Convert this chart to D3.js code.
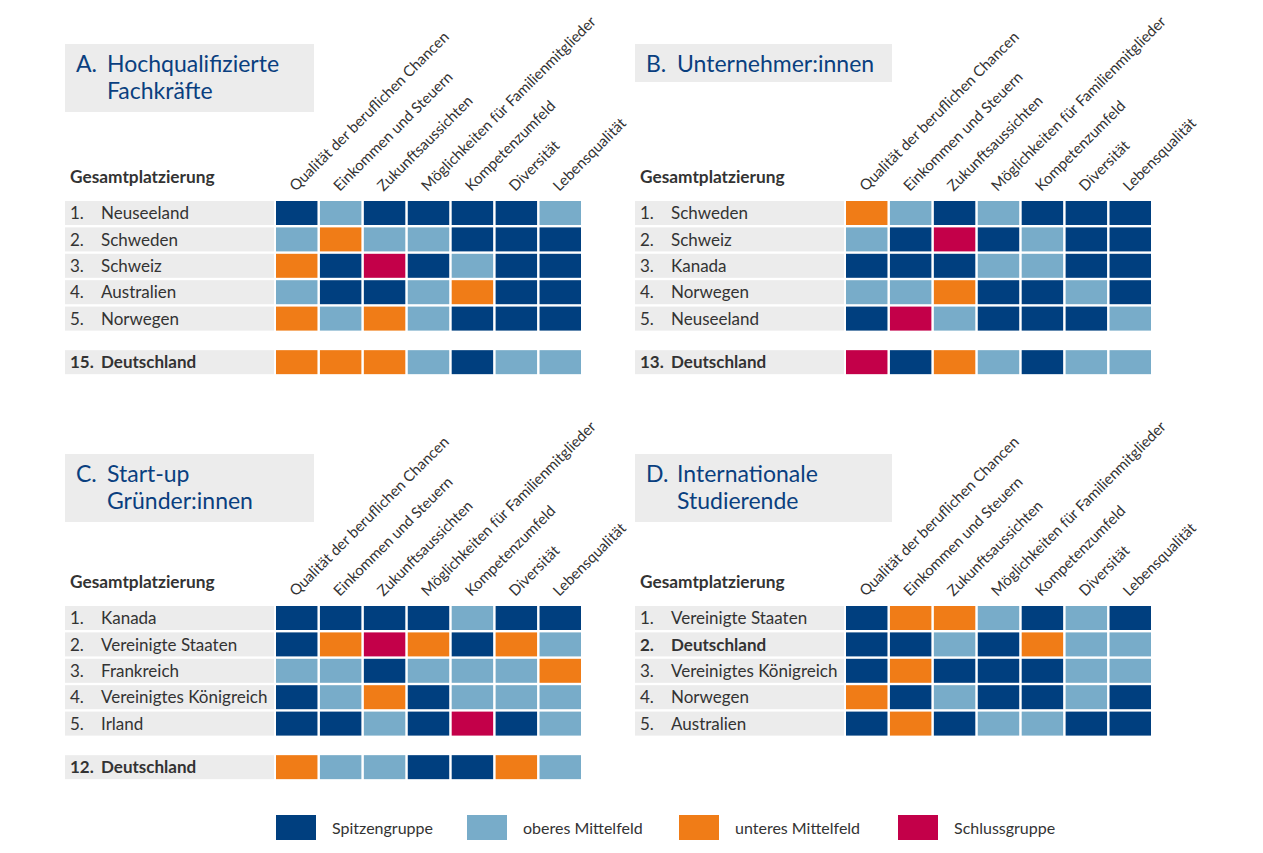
<!DOCTYPE html>
<html><head><meta charset="utf-8">
<script src="https://cdn.jsdelivr.net/npm/d3@7"></script>
<style>
body{margin:0;background:#fff;}
svg{display:block;font-family:Lato, "Open Sans", sans-serif;}
</style></head>
<body>
<svg id="chart" width="1263" height="853"></svg>
<script>
const categories = ["Qualität der beruflichen Chancen","Einkommen und Steuern","Zukunftsaussichten","Möglichkeiten für Familienmitglieder","Kompetenzumfeld","Diversität","Lebensqualität"];
const levels = ["Spitzengruppe","oberes Mittelfeld","unteres Mittelfeld","Schlussgruppe"];
const levelColors = ["#003f7f","#78acc9","#f07c17","#c30049"];

const panelTitles = [["A.","Hochqualifizierte","Fachkräfte"],["B.","Unternehmer:innen"],["C.","Start-up","Gründer:innen"],["D.","Internationale","Studierende"]];

const ranksA = ["1.","2.","3.","4.","5.","15."];
const countriesA = ["Neuseeland","Schweden","Schweiz","Australien","Norwegen","Deutschland"];
const valuesA = [[1,2,1,1,1,1,2],[2,3,2,2,1,1,1],[3,1,4,1,2,1,1],[2,1,1,2,3,1,1],[3,2,3,2,1,1,1],[3,3,3,2,1,2,2]];

const ranksB = ["1.","2.","3.","4.","5.","13."];
const countriesB = ["Schweden","Schweiz","Kanada","Norwegen","Neuseeland","Deutschland"];
const valuesB = [[3,2,1,2,1,1,1],[2,1,4,1,2,1,1],[1,1,1,2,2,1,1],[2,2,3,1,1,2,1],[1,4,2,1,1,1,2],[4,1,3,2,1,2,2]];

const ranksC = ["1.","2.","3.","4.","5.","12."];
const countriesC = ["Kanada","Vereinigte Staaten","Frankreich","Vereinigtes Königreich","Irland","Deutschland"];
const valuesC = [[1,1,1,1,2,1,1],[1,3,4,3,1,3,2],[2,2,1,2,2,2,3],[1,2,3,1,2,2,2],[1,1,2,1,4,1,2],[3,2,2,1,1,3,2]];

const ranksD = ["1.","2.","3.","4.","5."];
const countriesD = ["Vereinigte Staaten","Deutschland","Vereinigtes Königreich","Norwegen","Australien"];
const valuesD = [[1,3,3,2,1,2,1],[1,1,2,1,3,2,2],[1,3,1,1,1,2,2],[3,1,2,1,1,2,1],[1,3,1,2,2,1,1]];

const headerLabel = "Gesamtplatzierung";

const panels = [
  {ox:65, oy:0, titleY:44, titleW:249, title:panelTitles[0], ranks:ranksA, countries:countriesA, values:valuesA},
  {ox:635, oy:0, titleY:44, titleW:257, title:panelTitles[1], ranks:ranksB, countries:countriesB, values:valuesB},
  {ox:65, oy:405, titleY:454, titleW:249, title:panelTitles[2], ranks:ranksC, countries:countriesC, values:valuesC},
  {ox:635, oy:405, titleY:454, titleW:257, title:panelTitles[3], ranks:ranksD, countries:countriesD, values:valuesD}
];

const svg = d3.select("#chart");
const textCol = "#333";
const blue = "#0a3f7f";

const x = d3.scaleBand().domain(categories).range([211, 516]).paddingInner(0.056).paddingOuter(0);
const slot = d3.scaleLinear().domain([0,1]).range([201, 227.4]);
const rowH = 24;
const color = d3.scaleOrdinal().domain([1,2,3,4]).range(levelColors);

panels.forEach(p => {
  const g = svg.append("g").attr("transform", `translate(${p.ox},${p.oy})`);
  const tg = svg.append("g").attr("transform", `translate(${p.ox},${p.titleY})`);
  const boxH = p.title.length > 2 ? 68 : 38;
  tg.append("rect").attr("x",0).attr("y",0).attr("width",p.titleW).attr("height",boxH).attr("fill","#ececec");
  tg.append("text").attr("x",11).attr("y",28).attr("font-size",23).attr("fill",blue).text(p.title[0]);
  p.title.slice(1).forEach((t,i) => {
    tg.append("text").attr("x",42).attr("y",28 + i*27).attr("font-size",23).attr("fill",blue).text(t);
  });
  g.append("text").attr("x",5).attr("y",183).attr("font-size",17.3).attr("font-weight","bold").attr("fill",textCol).text(headerLabel);
  categories.forEach(c => {
    const cx = x(c) + x.bandwidth()/2 - 1;
    g.append("text").attr("transform", `translate(${cx},192) rotate(-45)`)
      .attr("font-size",15).attr("fill",textCol).text(c);
  });
  p.countries.forEach((name,i) => {
    const s = i < 5 ? i : 5.65;
    const y0 = slot(s);
    const bold = name === "Deutschland";
    g.append("rect").attr("x",0).attr("y",y0).attr("width",209).attr("height",rowH).attr("fill","#ececec");
    g.append("text").attr("x",5).attr("y",y0+rowH/2).attr("dy","0.36em").attr("font-size",17)
      .attr("font-weight", bold ? "bold":"normal").attr("fill",textCol).text(p.ranks[i]);
    g.append("text").attr("x",36).attr("y",y0+rowH/2).attr("dy","0.36em").attr("font-size",17)
      .attr("font-weight", bold ? "bold":"normal").attr("fill",textCol).text(name);
    g.selectAll(null).data(p.values[i]).enter().append("rect")
      .attr("x",(d,j)=>x(categories[j])).attr("y",y0).attr("width",x.bandwidth()).attr("height",rowH)
      .attr("fill",d=>color(d));
  });
});

const legendX = d3.scaleOrdinal().domain(levels).range([276, 467, 679, 898]);
const lg = svg.append("g");
levels.forEach((l,i) => {
  lg.append("rect").attr("x",legendX(l)).attr("y",815).attr("width",40).attr("height",25).attr("fill",levelColors[i]);
  lg.append("text").attr("x",legendX(l)+56).attr("y",828).attr("dy","0.36em").attr("font-size",16).attr("fill",textCol).text(l);
});
</script>
</body></html>
